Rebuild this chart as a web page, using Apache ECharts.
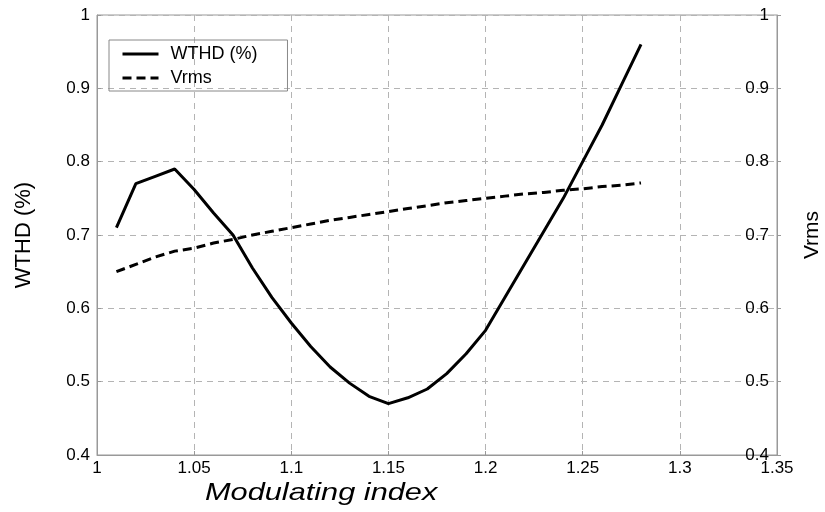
<!DOCTYPE html>
<html><head><meta charset="utf-8">
<script src="https://cdn.jsdelivr.net/npm/echarts@6/dist/echarts.min.js"></script>
<style>html,body{margin:0;padding:0;background:#fff;overflow:hidden}#c{width:825px;height:512px}</style>
</head><body><div id="c"></div>
<script>
var modIndex = [1.01,1.02,1.03,1.04,1.05,1.06,1.07,1.08,1.09,1.10,1.11,1.12,1.13,1.14,1.15,1.16,1.17,1.18,1.19,1.20,1.21,1.22,1.23,1.24,1.25,1.26,1.27,1.28];
var wthd = [0.71,0.77,0.78,0.79,0.762,0.73,0.70,0.655,0.615,0.58,0.548,0.52,0.498,0.48,0.47,0.478,0.49,0.511,0.538,0.57,0.615,0.66,0.705,0.75,0.80,0.85,0.905,0.96];
var vrms = [0.65,0.66,0.67,0.678,0.682,0.689,0.694,0.70,0.705,0.71,0.715,0.72,0.724,0.728,0.732,0.736,0.74,0.744,0.747,0.75,0.753,0.756,0.758,0.761,0.763,0.766,0.768,0.771];
var seriesNames = ['WTHD (%)', 'Vrms'];
var xTitle = 'Modulating index';

function pairs(xs, ys){ return xs.map(function(x,i){ return [x, ys[i]]; }); }
var font = 'Liberation Sans, Arial, sans-serif';
var gridLine = {show:true, lineStyle:{color:'#b4b4b4', type:[6,5], width:1}};
var chart = echarts.init(document.getElementById('c'));
chart.setOption({
  animation:false,
  backgroundColor:'#fff',
  textStyle:{fontFamily:font},
  grid:{left:97, right:48, top:15, bottom:57, show:true, borderColor:'#999', borderWidth:1,
        containLabel:false, outerBoundsMode:'none'},
  legend:{
    orient:'vertical', left:109, top:40,
    data:seriesNames,
    borderColor:'#888', borderWidth:1, padding:[5,30,4,12],
    itemWidth:36, itemHeight:14, itemGap:6,
    itemStyle:{opacity:0},
    lineStyle:{width:3},
    textStyle:{fontSize:18, color:'#000', fontFamily:font, padding:[0,0,0,7]}
  },
  xAxis:{
    type:'value', min:1, max:1.35, interval:0.05,
    axisLine:{lineStyle:{color:'#999'}},
    axisTick:{inside:true, length:4, lineStyle:{color:'#999'}},
    axisLabel:{color:'#000', fontSize:17, margin:5, fontFamily:font},
    splitLine:gridLine
  },
  yAxis:[{
    type:'value', min:0.4, max:1, interval:0.1, position:'left',
    name:seriesNames[0], nameLocation:'middle', nameGap:62, nameRotate:90,
    nameTextStyle:{fontSize:22, color:'#000', fontFamily:font},
    axisLine:{show:true, lineStyle:{color:'#999'}},
    axisTick:{show:true, inside:true, length:4, lineStyle:{color:'#999'}},
    axisLabel:{color:'#000', fontSize:17, margin:7, fontFamily:font},
    splitLine:gridLine
  },{
    type:'value', min:0.4, max:1, interval:0.1, position:'right',
    name:seriesNames[1], nameLocation:'middle', nameGap:25, nameRotate:90,
    nameTextStyle:{fontSize:21, color:'#000', fontFamily:font},
    axisLine:{show:true, lineStyle:{color:'#999'}},
    axisTick:{show:true, inside:false, length:4, lineStyle:{color:'#999'}},
    axisLabel:{color:'#000', fontSize:17, inside:true, margin:8, fontFamily:font},
    splitLine:{show:false}
  }],
  graphic:[{
    type:'text', left:205, top:481, scaleX:1.28,
    style:{text:xTitle, font:'italic 24px ' + font, fill:'#000'}
  }],
  series:[{
    name:seriesNames[0], type:'line', yAxisIndex:0, symbol:'none',
    data:pairs(modIndex, wthd),
    lineStyle:{color:'#000', width:3}, itemStyle:{color:'#000'}
  },{
    name:seriesNames[1], type:'line', yAxisIndex:1, symbol:'none',
    data:pairs(modIndex, vrms),
    lineStyle:{color:'#000', width:3, type:[9,5]}, itemStyle:{color:'#000'}
  }]
});
</script></body></html>
